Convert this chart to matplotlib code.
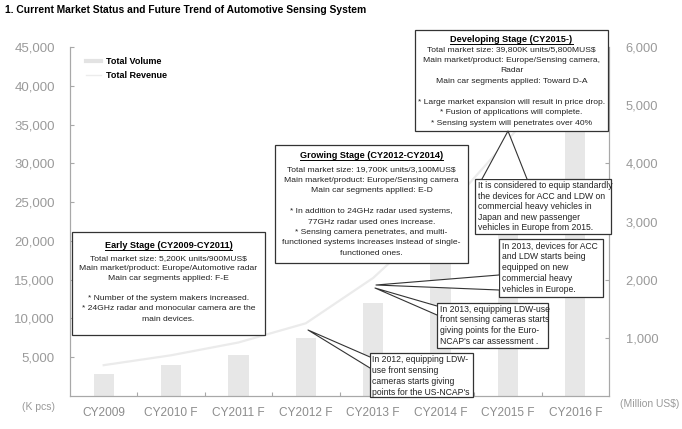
import numpy as np
import matplotlib.pyplot as plt
from matplotlib.lines import Line2D
from matplotlib.patches import Rectangle, Polygon

plt.rcParams['font.family'] = ['Liberation Sans', 'DejaVu Sans']

# --- Dados ---
anos = ['CY2009', 'CY2010 F', 'CY2011 F', 'CY2012 F', 'CY2013 F', 'CY2014 F', 'CY2015 F', 'CY2016 F']
volume_kpcs = [2850, 4000, 5250, 7450, 12000, 19700, 29700, 39800]
receita_musd = [530, 700, 920, 1250, 2030, 3100, 4400, 5800]

titulo = '1. Current Market Status and Future Trend of Automotive Sensing System'

W, H = 682, 429
COR_EIXO = '#a8a8a8'
COR_TICK = '#9a9a9a'

fig = plt.figure(figsize=(W / 100, H / 100), dpi=100)
ax = fig.add_axes([70 / W, 33 / H, 539 / W, 349 / H])
ax2 = ax.twinx()

x = np.arange(len(anos))
ax.bar(x, volume_kpcs, width=0.3, color='#e7e7e7', zorder=1)
ax2.plot(x, receita_musd, color='#ebebeb', lw=1.6, zorder=1)

ax.set_xlim(-0.5, len(anos) - 0.5)
ax.set_ylim(0, 45000)
ax2.set_ylim(0, 6000)
ax.set_yticks(np.arange(5000, 45001, 5000))
ax.set_yticklabels([f'{v:,}' for v in range(5000, 45001, 5000)])
ax2.set_yticks(np.arange(1000, 6001, 1000))
ax2.set_yticklabels([f'{v:,}' for v in range(1000, 6001, 1000)])

# ticks do eixo x nas fronteiras, rótulos no centro
ax.set_xticks(np.arange(0.5, len(anos) - 1, 1))
ax.set_xticklabels([])
ax.set_xticks(x, minor=True)
ax.set_xticklabels(anos, minor=True)
ax.tick_params(axis='x', which='major', direction='in', length=3, color=COR_EIXO)
ax.tick_params(axis='x', which='minor', length=0, pad=8, labelsize=8.6, labelcolor='#8c8c8c')
ax.tick_params(axis='y', direction='in', length=3, color=COR_EIXO, pad=11, labelsize=9.5, labelcolor=COR_TICK)
ax2.tick_params(axis='y', direction='in', length=3, color=COR_EIXO, pad=12, labelsize=9.3, labelcolor=COR_TICK)

for a in (ax, ax2):
    a.spines['top'].set_visible(False)
    for s in ('left', 'right', 'bottom'):
        a.spines[s].set_color(COR_EIXO)
        a.spines[s].set_linewidth(0.8)

# legenda
handles = [Line2D([], [], color='#e3e3e3', lw=3), Line2D([], [], color='#ececec', lw=1)]
ax.legend(handles, ['Total Volume', 'Total Revenue'], loc='upper left',
          bbox_to_anchor=(8 / 539, 0.995), frameon=False, handlelength=1.6,
          handletextpad=0.6, labelspacing=0.6, prop={'weight': 'bold', 'size': 6.5})

fig.text(5 / W, 1 - 10 / H, titulo, fontsize=7.35, fontweight='bold', va='center', ha='left')
fig.text(22 / W, 1 - 407 / H, '(K pcs)', fontsize=7.5, color=COR_TICK, va='center')
fig.text(620 / W, 1 - 404 / H, '(Million US$)', fontsize=7.5, color=COR_TICK, va='center')


def px(xp, yp):
    return xp / W, 1 - yp / H


def caixa(x0, y0, x1, y1):
    fx0, fy1 = px(x0, y1)
    r = Rectangle((fx0, fy1), (x1 - x0) / W, (y1 - y0) / H, transform=fig.transFigure,
                  facecolor='white', edgecolor='#333333', lw=0.9, zorder=5)
    fig.add_artist(r)


def seta(base1, apice, base2):
    pts = [px(*base1), px(*apice), px(*base2)]
    fig.add_artist(Polygon(pts, closed=True, transform=fig.transFigure,
                           facecolor='white', edgecolor='none', zorder=6))
    fig.add_artist(Line2D([pts[0][0], pts[1][0], pts[2][0]], [pts[0][1], pts[1][1], pts[2][1]],
                          transform=fig.transFigure, color='#333333', lw=0.8, zorder=7))


def linhas(xp, y_ini, passo, texto, ha, tam=6.1):
    # cada linha posicionada individualmente (passo em pixels)
    for i, lin in enumerate(texto.split('\n')):
        if lin:
            fig.text(xp / W, 1 - (y_ini + i * passo) / H, lin, fontsize=tam, ha=ha, va='center',
                     zorder=8, color='#222222')


def estagio(x0, y0, x1, y1, cab, corpo, y_cab, y_corpo, passo):
    caixa(x0, y0, x1, y1)
    cx = (x0 + x1) / 2
    t = fig.text(cx / W, 1 - y_cab / H, cab, fontsize=6.6, fontweight='bold', ha='center',
                 va='center_baseline', zorder=8)
    fig.canvas.draw()
    bb = t.get_window_extent()
    fig.add_artist(Line2D([bb.x0 / W, bb.x1 / W], [(bb.y0 + 0.2) / H, (bb.y0 + 0.2) / H],
                          transform=fig.transFigure, color='black', lw=0.7, zorder=8))
    linhas(cx, y_corpo, passo, corpo, 'center')


def nota(x0, y0, x1, y1, texto, y_ini, passo):
    caixa(x0, y0, x1, y1)
    linhas(x0 + 2.5, y_ini, passo, texto, 'left', 6.2)


estagio(415, 30, 608, 131, 'Developing Stage (CY2015-)',
        'Total market size: 39,800K units/5,800MUS$\n'
        'Main market/product: Europe/Sensing camera,\nRadar\n'
        'Main car segments applied: Toward D-A\n\n'
        '* Large market expansion will result in price drop.\n'
        '* Fusion of applications will complete.\n'
        '* Sensing system will penetrates over 40%', 38.5, 50, 10.45)

estagio(275, 145, 468, 263, 'Growing Stage (CY2012-CY2014)',
        'Total market size: 19,700K units/3,100MUS$\n'
        'Main market/product: Europe/Sensing camera\n'
        'Main car segments applied: E-D\n\n'
        '* In addition to 24GHz radar used systems,\n'
        '77GHz radar used ones increase.\n'
        '* Sensing camera penetrates, and multi-\n'
        'functioned systems increases instead of single-\n'
        'functioned ones.', 155, 169.5, 10.5)

estagio(72, 232, 265, 335, 'Early Stage (CY2009-CY2011)',
        'Total market size: 5,200K units/900MUS$\n'
        'Main market/product: Europe/Automotive radar\n'
        'Main car segments applied: F-E\n\n'
        '* Number of the system makers increased.\n'
        '* 24GHz radar and monocular camera are the\n'
        'main devices.', 245, 258.5, 10.1)

nota(475, 179, 611, 234, 'It is considered to equip standardly\nthe devices for ACC and LDW on\n'
     'commercial heavy vehicles in\nJapan and new passenger\nvehicles in Europe from 2015.',
     185.5, 10.6)
seta((482, 179), (508, 131), (527, 179))

nota(499, 239, 603, 297, 'In 2013, devices for ACC\nand LDW starts being\nequipped on new\n'
     'commercial heavy\nvehicles in Europe.', 246, 10.8)
seta((499, 275), (376, 285), (499, 290))

nota(437, 303, 548, 348, 'In 2013, equipping LDW-use\nfront sensing cameras starts\n'
     'giving points for the Euro-\nNCAP\'s car assessment .', 309.5, 10.5)
seta((437, 306), (375, 288), (437, 315))

nota(370, 353, 473, 397, 'In 2012, equipping LDW-\nuse front sensing\ncameras starts giving\n'
     'points for the US-NCAP\'s', 360, 10.9)
seta((370, 357), (308, 330), (370, 368))

fig.savefig('out.png', dpi=100)
